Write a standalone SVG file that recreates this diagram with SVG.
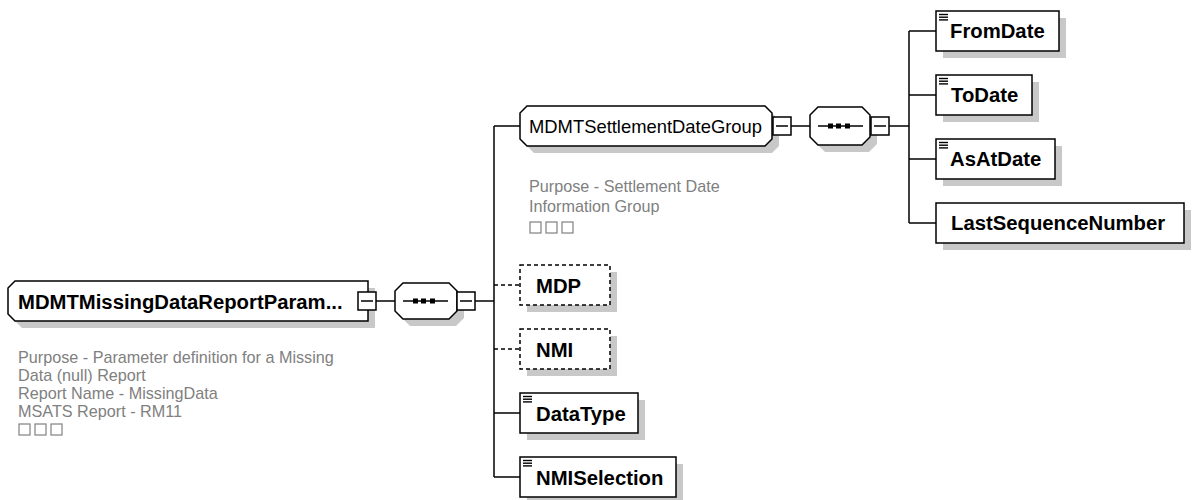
<svg xmlns="http://www.w3.org/2000/svg" width="1194" height="500" viewBox="0 0 1194 500">
<style>
.shape{fill:#fff;stroke:#000;stroke-width:1.5}
.shadow{fill:#c8c8c8;stroke:none}
.dash{stroke-dasharray:4,3}
.conn{fill:none;stroke:#000;stroke-width:1.5}
.b{font-family:"Liberation Sans",Arial,sans-serif;font-weight:bold;font-size:20.3px;fill:#000}
.n{font-family:"Liberation Sans",Arial,sans-serif;font-size:18.4px;fill:#000}
.ann{font-family:"Liberation Sans",Arial,sans-serif;font-size:16.2px;fill:#808080}
.box{fill:none;stroke:#808080;stroke-width:1.2}
.icon{stroke:#000;stroke-width:1.4}
</style>
<defs>
<g id="minus"><rect x="0" y="0" width="18" height="18" class="shape"/><line x1="3" y1="9" x2="15" y2="9" stroke="#000" stroke-width="1.5"/></g>
<g id="seqsym"><line x1="8" y1="0" x2="53" y2="0" stroke="#000" stroke-width="1.5"/><rect x="18" y="-2.5" width="5" height="5" fill="#000"/><rect x="26" y="-2.5" width="5" height="5" fill="#000"/><rect x="35" y="-2.5" width="5" height="5" fill="#000"/></g>
<g id="eicon"><line x1="3" y1="3.5" x2="12" y2="3.5" class="icon"/><line x1="3" y1="6.2" x2="12" y2="6.2" class="icon"/><line x1="3" y1="8.9" x2="12" y2="8.9" class="icon"/></g>
<g id="tofu"><rect x="0" y="0" width="11" height="11" class="box"/><rect x="16" y="0" width="11" height="11" class="box"/><rect x="32" y="0" width="11" height="11" class="box"/></g>
</defs>

<g id="connectors">
<path class="conn" d="M376,301 H395"/>
<path class="conn" d="M475,301 H494"/>
<path class="conn" d="M494,126 V477"/>
<path class="conn" d="M494,126 H520"/>
<path class="conn dash" d="M494,285 H520"/>
<path class="conn dash" d="M494,349 H520"/>
<path class="conn" d="M494,413 H520"/>
<path class="conn" d="M494,477 H520"/>
<path class="conn" d="M791,126 H810"/>
<path class="conn" d="M889,126 H909"/>
<path class="conn" d="M909,31 V223"/>
<path class="conn" d="M909,31 H936"/>
<path class="conn" d="M909,95 H936"/>
<path class="conn" d="M909,159 H936"/>
<path class="conn" d="M909,223 H936"/>
</g>

<g id="root">
<path class="shadow" d="M22,288 H375 V328 H22 L15,321 V295 Z"/>
<path class="shape" d="M15,281 H368 V321 H15 L8,314 V288 Z"/>
<text class="b" x="18" y="309">MDMTMissingDataReportParam...</text>
<use href="#minus" x="358" y="292"/>
<text class="ann" x="18" y="363">Purpose - Parameter definition for a Missing</text>
<text class="ann" x="18" y="381">Data (null) Report</text>
<text class="ann" x="18" y="399">Report Name - MissingData</text>
<text class="ann" x="18" y="417">MSATS Report - RM11</text>
<use href="#tofu" x="19" y="424"/>
</g>

<g id="seq1">
<path class="shadow" d="M410,289 H456 L464,297 V318 L456,326 H410 L402,318 V297 Z"/>
<path class="shape" d="M403,283 H449 L457,291 V311 L449,319 H403 L395,311 V291 Z"/>
<use href="#seqsym" x="395" y="301"/>
<use href="#minus" x="457" y="292"/>
</g>

<g id="settlementGroup">
<path class="shadow" d="M534,113 H772 L779,120 V146 L772,153 H534 L527,146 V120 Z"/>
<path class="shape" d="M527,106 H765 L772,113 V139 L765,146 H527 L520,139 V113 Z"/>
<text class="n" x="529" y="133">MDMTSettlementDateGroup</text>
<use href="#minus" x="773" y="117"/>
<text class="ann" x="529" y="192">Purpose - Settlement Date</text>
<text class="ann" x="529" y="212">Information Group</text>
<use href="#tofu" x="530" y="222"/>
</g>

<g id="seq2">
<path class="shadow" d="M825,114 H869 L877,122 V144 L869,152 H825 L817,144 V122 Z"/>
<path class="shape" d="M818,107 H862 L870,115 V137 L862,145 H818 L810,137 V115 Z"/>
<use href="#seqsym" x="810" y="126"/>
<use href="#minus" x="871" y="117"/>
</g>

<g id="MDP">
<rect class="shadow" x="527" y="272" width="90" height="40"/>
<rect class="shape dash" x="520" y="265" width="90" height="40"/>
<text class="b" x="536" y="293">MDP</text>
</g>

<g id="NMI">
<rect class="shadow" x="527" y="336" width="90" height="40"/>
<rect class="shape dash" x="520" y="329" width="90" height="40"/>
<text class="b" x="536" y="357">NMI</text>
</g>

<g id="DataType">
<rect class="shadow" x="527" y="400" width="118" height="40"/>
<rect class="shape" x="520" y="393" width="118" height="40"/>
<use href="#eicon" x="520" y="393"/>
<text class="b" x="536" y="421">DataType</text>
</g>

<g id="NMISelection">
<rect class="shadow" x="527" y="464" width="156" height="40"/>
<rect class="shape" x="520" y="457" width="156" height="40"/>
<use href="#eicon" x="520" y="457"/>
<text class="b" x="536" y="485">NMISelection</text>
</g>

<g id="FromDate">
<rect class="shadow" x="943" y="18" width="123" height="40"/>
<rect class="shape" x="936" y="11" width="123" height="40"/>
<use href="#eicon" x="936" y="11"/>
<text class="b" x="950" y="38">FromDate</text>
</g>

<g id="ToDate">
<rect class="shadow" x="943" y="82" width="96" height="40"/>
<rect class="shape" x="936" y="75" width="96" height="40"/>
<use href="#eicon" x="936" y="75"/>
<text class="b" x="951" y="102">ToDate</text>
</g>

<g id="AsAtDate">
<rect class="shadow" x="943" y="146" width="119" height="40"/>
<rect class="shape" x="936" y="139" width="119" height="40"/>
<use href="#eicon" x="936" y="139"/>
<text class="b" x="950" y="166">AsAtDate</text>
</g>

<g id="LastSequenceNumber">
<rect class="shadow" x="943" y="210" width="248" height="40"/>
<rect class="shape" x="936" y="203" width="248" height="40"/>
<text class="b" x="951" y="230">LastSequenceNumber</text>
</g>
</svg>
